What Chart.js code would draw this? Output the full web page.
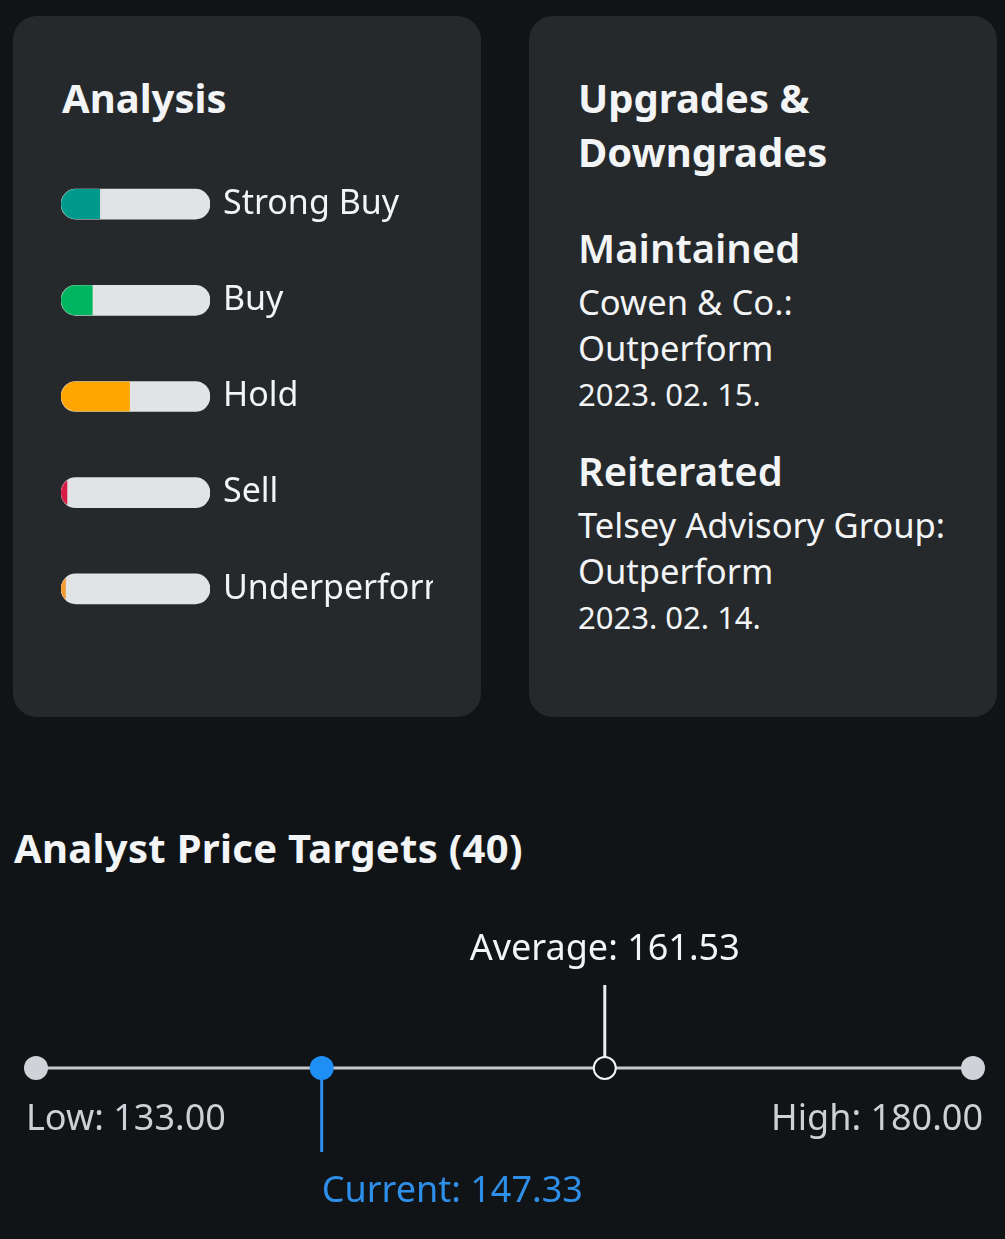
<!DOCTYPE html>
<html>
<head>
<meta charset="utf-8">
<script src="https://cdn.jsdelivr.net/npm/chart.js@4/dist/chart.umd.min.js"></script>
<style>
  html, body { margin:0; padding:0; background:#111417; }
  body { width:1005px; height:1239px; position:relative; overflow:hidden; font-family:"Noto Sans", sans-serif; color:#f2f4f6; }
  .card { position:absolute; top:16px; width:468px; height:701px; border-radius:24px; background:#25292c; }
  .t { position:absolute; white-space:nowrap; }
  .h1 { font-weight:700; font-size:40px; line-height:54px; }
  .h2 { font-weight:600; font-size:40px; line-height:50px; }
  .p { font-size:34.6px; line-height:46px; }
  .d { font-size:31px; line-height:46px; }
  canvas { position:absolute; }
</style>
</head>
<body>
<div class="card" style="left:13px"></div>
<div class="card" style="left:529px"></div>

<div class="t h1" style="left:62px; top:71px;">Analysis</div>

<div class="t h1" style="left:578px; top:71px;">Upgrades &amp;</div>
<div class="t h1" style="left:578px; top:125px;">Downgrades</div>

<div class="t h2" style="left:578px; top:223px;">Maintained</div>
<div class="t p" style="left:578px; top:279px;">Cowen &amp; Co.:</div>
<div class="t p" style="left:578px; top:325px;">Outperform</div>
<div class="t d" style="left:578px; top:371px;">2023. 02. 15.</div>

<div class="t h2" style="left:578px; top:446px;">Reiterated</div>
<div class="t p" style="left:578px; top:502px;">Telsey Advisory Group:</div>
<div class="t p" style="left:578px; top:548px;">Outperform</div>
<div class="t d" style="left:578px; top:594px;">2023. 02. 14.</div>

<div class="t h1" style="left:14px; top:821px; letter-spacing:0.3px;">Analyst Price Targets (40)</div>

<canvas id="ratings" width="372" height="481" style="left:61px; top:156px;"></canvas>
<canvas id="targets" width="1005" height="339" style="left:0px; top:900px;"></canvas>

<script>
// ---- Analysis ratings (percent of analysts) ----
const ratingLabels = ["Strong Buy", "Buy", "Hold", "Sell", "Underperform"];
const ratingShares = [26, 21, 46, 4, 3];
const ratingColors = ["#009a8c", "#00b55f", "#ffa700", "#d81b45", "#f39a33"];

// ---- Price targets ----
const targetLabels = ["Low", "Current", "Average", "High"];
const targetValues = [133.00, 147.33, 161.53, 180.00];

const TRACK = "#e1e3e6";
const BAR_H = 30;

const pillClip = {
  id: "pillClip",
  beforeDatasetDraw(chart, args) {
    if (args.index !== 0) return;
    const track = chart.getDatasetMeta(1).data;
    const ctx = chart.ctx;
    ctx.save();
    ctx.beginPath();
    track.forEach(el => {
      const p = el.getProps(["x", "y", "base", "height"], true);
      const left = Math.min(p.base, p.x), right = Math.max(p.base, p.x);
      const top = p.y - p.height / 2;
      ctx.roundRect(left, top, right - left, p.height, p.height / 2);
    });
    ctx.clip();
  },
  afterDatasetDraw(chart, args) {
    if (args.index !== 0) return;
    chart.ctx.restore();
  }
};

new Chart(document.getElementById("ratings"), {
  type: "bar",
  data: {
    labels: ratingLabels,
    datasets: [
      { data: ratingShares, backgroundColor: ratingColors, borderWidth: 0, borderSkipped: false,
        barThickness: BAR_H, grouped: false, order: 0 },
      { data: ratingLabels.map(() => 100), backgroundColor: TRACK, borderWidth: 0,
        borderRadius: BAR_H / 2, borderSkipped: false, barThickness: BAR_H, grouped: false, order: 1 }
    ]
  },
  options: {
    indexAxis: "y",
    responsive: false,
    animation: false,
    events: [],
    layout: { padding: 0, autoPadding: false },
    plugins: { legend: { display: false }, tooltip: { enabled: false } },
    scales: {
      x: { display: false, min: 0, max: 100 },
      y: {
        position: "right",
        grid: { display: false, drawTicks: false },
        border: { display: false },
        ticks: { color: "#f2f4f6", padding: 13, font: { family: "Noto Sans", size: 34 } },
        afterFit(scale) { scale.width = 223; scale.paddingTop = 0; scale.paddingBottom = 0; }
      }
    }
  },
  plugins: [pillClip]
});

// ---- Price target range chart ----
const CUR_STEM = -84, AVG_STEM = 83;
const fmt = v => v.toFixed(2);

const targetText = {
  id: "targetText",
  afterDatasetsDraw(chart) {
    const { ctx, scales: { x, y } } = chart;
    ctx.save();
    ctx.textBaseline = "middle";
    ctx.font = "36px 'Noto Sans'";
    // Low
    ctx.fillStyle = "#cdd0d4";
    ctx.textAlign = "left";
    ctx.fillText(`${targetLabels[0]}: ${fmt(targetValues[0])}`, x.getPixelForValue(targetValues[0]) - 10, y.getPixelForValue(-52));
    // High
    ctx.textAlign = "right";
    ctx.fillText(`${targetLabels[3]}: ${fmt(targetValues[3])}`, x.getPixelForValue(targetValues[3]) + 10, y.getPixelForValue(-52));
    // Average
    ctx.fillStyle = "#f2f4f6";
    ctx.textAlign = "center";
    ctx.fillText(`${targetLabels[2]}: ${fmt(targetValues[2])}`, x.getPixelForValue(targetValues[2]), y.getPixelForValue(118));
    // Current
    ctx.fillStyle = "#2e8fe8";
    ctx.textAlign = "left";
    ctx.fillText(`${targetLabels[1]}: ${fmt(targetValues[1])}`, x.getPixelForValue(targetValues[1]), y.getPixelForValue(-124));
    ctx.restore();
  }
};

new Chart(document.getElementById("targets"), {
  type: "scatter",
  data: {
    datasets: [
      { data: [{ x: targetValues[1], y: 0 }], pointRadius: 12, pointBackgroundColor: "#1f8ff5",
        pointBorderWidth: 0, order: 0 },
      { data: [{ x: targetValues[2], y: 0 }], pointRadius: 11, pointBackgroundColor: "#111417",
        pointBorderColor: "#f2f4f6", pointBorderWidth: 2, order: 0 },
      { data: [{ x: targetValues[0], y: 0 }, { x: targetValues[3], y: 0 }], showLine: true,
        borderColor: "#c6c9cd", borderWidth: 3, pointRadius: 12, pointBackgroundColor: "#cfd2d6",
        pointBorderWidth: 0, order: 2 },
      { data: [{ x: targetValues[1], y: 0 }, { x: targetValues[1], y: CUR_STEM }], showLine: true,
        borderColor: "#2b8ef0", borderWidth: 3, pointRadius: 0, order: 1 },
      { data: [{ x: targetValues[2], y: 0 }, { x: targetValues[2], y: AVG_STEM }], showLine: true,
        borderColor: "#eceef0", borderWidth: 3, pointRadius: 0, order: 1 }
    ]
  },
  options: {
    responsive: false,
    animation: false,
    events: [],
    clip: false,
    layout: { padding: { left: 36, right: 32, top: 0, bottom: 0 }, autoPadding: false },
    plugins: { legend: { display: false }, tooltip: { enabled: false } },
    scales: {
      x: { type: "linear", display: false, min: targetValues[0], max: targetValues[3] },
      y: { type: "linear", display: false, min: -171, max: 168 }
    }
  },
  plugins: [targetText]
});
</script>
</body>
</html>
